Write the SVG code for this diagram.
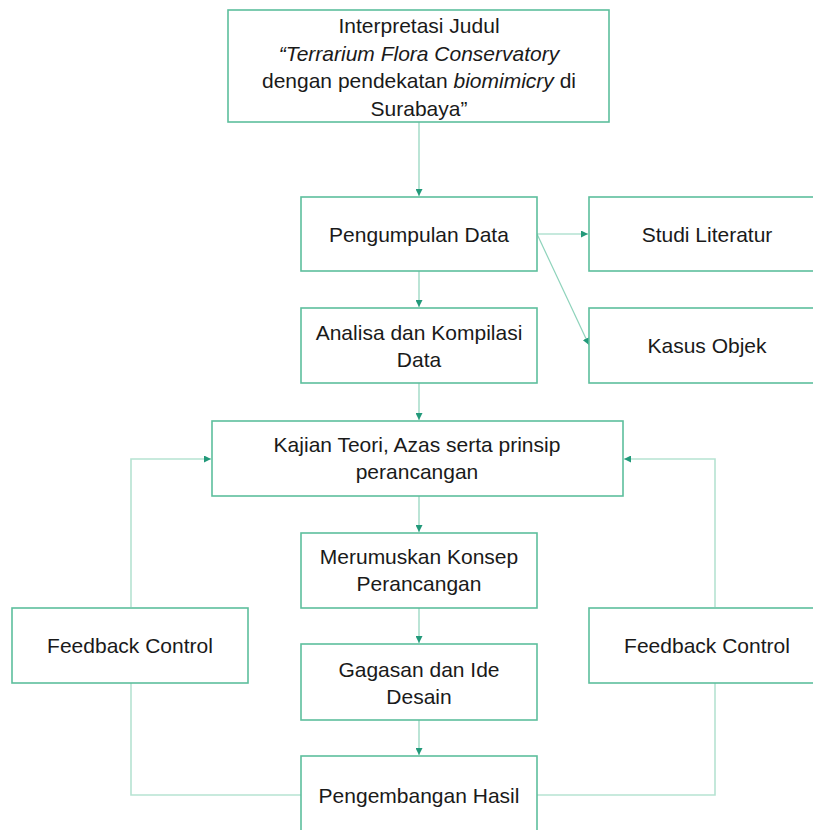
<svg xmlns="http://www.w3.org/2000/svg" width="813" height="830" viewBox="0 0 813 830">
<style>
.box{fill:#ffffff;stroke:#5dbf9d;stroke-width:1.6}
.t{font-family:"Liberation Sans",Arial,sans-serif;font-size:21px;fill:#1a1a1a;text-anchor:middle}
.c{fill:none;stroke:#8ed3bb;stroke-width:1.2}
.fb{fill:none;stroke:#b6e3d2;stroke-width:1.6}
</style>
<defs>
<marker id="ah" viewBox="0 0 10 10" refX="10" refY="5" markerWidth="7" markerHeight="7" markerUnits="userSpaceOnUse" orient="auto">
<path d="M0,0 L10,5 L0,10 z" fill="#22997a"/>
</marker>
</defs>
<rect width="813" height="830" fill="#ffffff"/>
<g id="connectors">
<line class="c" x1="419" y1="122" x2="419" y2="196" marker-end="url(#ah)"/>
<line class="c" x1="419" y1="271" x2="419" y2="307" marker-end="url(#ah)"/>
<line class="c" x1="537" y1="234" x2="588" y2="234" marker-end="url(#ah)"/>
<line class="c" x1="537" y1="234" x2="589" y2="345" marker-end="url(#ah)"/>
<line class="c" x1="419" y1="383" x2="419" y2="420" marker-end="url(#ah)"/>
<line class="c" x1="419" y1="496" x2="419" y2="532" marker-end="url(#ah)"/>
<line class="c" x1="419" y1="608" x2="419" y2="643" marker-end="url(#ah)"/>
<line class="c" x1="419" y1="720" x2="419" y2="755" marker-end="url(#ah)"/>
<polyline class="fb" points="131,607 131,459 211,459" marker-end="url(#ah)"/>
<polyline class="fb" points="715,607 715,459 624,459" marker-end="url(#ah)"/>
<polyline class="fb" points="131,683 131,795 301,795"/>
<polyline class="fb" points="715,683 715,795 537,795"/>
</g>
<g id="interpretasi">
<rect class="box" x="228" y="10" width="381" height="112"/>
<text class="t" x="419" y="33">Interpretasi Judul</text>
<text class="t" x="419" y="61" font-style="italic">“Terrarium Flora Conservatory</text>
<text class="t" x="419" y="88">dengan pendekatan <tspan font-style="italic">biomimicry</tspan> di</text>
<text class="t" x="419" y="116">Surabaya”</text>
</g>
<g id="pengumpulan">
<rect class="box" x="301" y="197" width="236" height="74"/>
<text class="t" x="419" y="242">Pengumpulan Data</text>
</g>
<g id="studi">
<rect class="box" x="589" y="197" width="236" height="74"/>
<text class="t" x="707" y="242">Studi Literatur</text>
</g>
<g id="analisa">
<rect class="box" x="301" y="308" width="236" height="75"/>
<text class="t" x="419" y="340">Analisa dan Kompilasi</text>
<text class="t" x="419" y="367">Data</text>
</g>
<g id="kasus">
<rect class="box" x="589" y="308" width="236" height="75"/>
<text class="t" x="707" y="353">Kasus Objek</text>
</g>
<g id="kajian">
<rect class="box" x="212" y="421" width="411" height="75"/>
<text class="t" x="417" y="452">Kajian Teori, Azas serta prinsip</text>
<text class="t" x="417" y="479">perancangan</text>
</g>
<g id="merumuskan">
<rect class="box" x="301" y="533" width="236" height="75"/>
<text class="t" x="419" y="564">Merumuskan Konsep</text>
<text class="t" x="419" y="591">Perancangan</text>
</g>
<g id="feedback-left">
<rect class="box" x="12" y="608" width="236" height="75"/>
<text class="t" x="130" y="653">Feedback Control</text>
</g>
<g id="feedback-right">
<rect class="box" x="589" y="608" width="236" height="75"/>
<text class="t" x="707" y="653">Feedback Control</text>
</g>
<g id="gagasan">
<rect class="box" x="301" y="644" width="236" height="76"/>
<text class="t" x="419" y="677">Gagasan dan Ide</text>
<text class="t" x="419" y="704">Desain</text>
</g>
<g id="pengembangan">
<rect class="box" x="301" y="756" width="236" height="80"/>
<text class="t" x="419" y="803">Pengembangan Hasil</text>
</g>
</svg>
